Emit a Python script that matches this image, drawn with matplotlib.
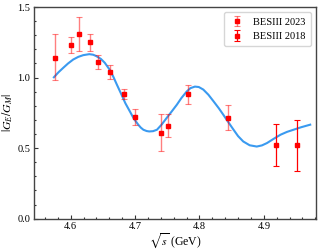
import numpy as np
import matplotlib
matplotlib.use("Agg")
import matplotlib.pyplot as plt
from matplotlib.ticker import MultipleLocator

plt.rcParams.update({"font.family": "serif", "font.serif": ["Liberation Serif", "DejaVu Serif"],
                     "mathtext.fontset": "stix", "font.size": 7.5})

# BESIII 2023 points: sqrt(s), value, upper / lower error
s23 = [4.575, 4.600, 4.613, 4.630, 4.642, 4.661, 4.683, 4.700, 4.741, 4.751, 4.782, 4.844]
r23 = [1.14, 1.23, 1.31, 1.25, 1.11, 1.04, 0.88, 0.72, 0.61, 0.66, 0.88, 0.71]
up23 = [0.166, 0.059, 0.12, 0.06, 0.047, 0.048, 0.036, 0.06, 0.131, 0.081, 0.07, 0.093]
lo23 = [0.154, 0.054, 0.12, 0.064, 0.05, 0.047, 0.031, 0.059, 0.128, 0.078, 0.066, 0.085]

# BESIII 2018 points
s18 = [4.919, 4.952]
r18 = [0.523, 0.523]
up18 = [0.148, 0.173]
lo18 = [0.149, 0.182]

# fit curve
fit_s = [4.574, 4.581, 4.5885, 4.596, 4.604, 4.612, 4.6196, 4.629, 4.635, 4.640, 4.647,
         4.653, 4.660, 4.666, 4.672, 4.679, 4.685, 4.692, 4.698, 4.705, 4.709, 4.713,
         4.718, 4.722, 4.728, 4.734, 4.741, 4.749, 4.757, 4.765, 4.772, 4.780, 4.786,
         4.793, 4.799, 4.806, 4.814, 4.822, 4.830, 4.837, 4.845, 4.853, 4.860, 4.868,
         4.878, 4.889, 4.897, 4.905, 4.915, 4.926, 4.936, 4.946, 4.958, 4.972]
fit_r = [1.002, 1.037, 1.069, 1.100, 1.128, 1.147, 1.159, 1.166, 1.162, 1.152, 1.132,
         1.105, 1.060, 1.009, 0.948, 0.879, 0.818, 0.760, 0.710, 0.666, 0.645, 0.630,
         0.621, 0.618, 0.620, 0.630, 0.665, 0.713, 0.760, 0.808, 0.855, 0.900, 0.925,
         0.936, 0.933, 0.915, 0.878, 0.831, 0.783, 0.737, 0.683, 0.630, 0.585, 0.547,
         0.520, 0.511, 0.519, 0.536, 0.565, 0.595, 0.615, 0.630, 0.648, 0.666]

fig = plt.figure(figsize=(3.2, 2.52), dpi=100)
ax = fig.add_axes([0.106, 0.1325, 0.8815, 0.8395])

ax.plot(fit_s, fit_r, color="#3a9af0", lw=1.5, zorder=2)
ax.errorbar(s23, r23, yerr=[lo23, up23], fmt="s", color="red", ms=3.5,
            ecolor=(1, 0, 0, 0.5), elinewidth=1, capsize=2, capthick=0.8,
            label="BESIII 2023", zorder=3)
ax.errorbar(s18, r18, yerr=[lo18, up18], fmt="s", color="red", ms=3,
            ecolor="red", elinewidth=0.9, capsize=2, capthick=0.8,
            label="BESIII 2018", zorder=3)

ax.set_xlim(4.543, 4.981)
ax.set_ylim(0, 1.5)
ax.xaxis.set_major_locator(MultipleLocator(0.1))
ax.xaxis.set_minor_locator(MultipleLocator(0.02))
ax.yaxis.set_major_locator(MultipleLocator(0.5))
ax.yaxis.set_minor_locator(MultipleLocator(0.1))
ax.tick_params(which="both", direction="in", colors="#333333", labelcolor="black", width=0.8)
ax.tick_params(which="major", length=3, pad=2.5)
ax.tick_params(which="minor", length=1.5)
for sp in ax.spines.values():
    sp.set_color("#444444"); sp.set_linewidth(1.0)

ax.set_xlabel(r"$\sqrt{s}$ (GeV)", fontsize=8.5, labelpad=0)
ax.set_ylabel(r"$|G_E/G_M|$", fontsize=8.5, labelpad=2)
ax.legend(loc="upper right", fontsize=7.5, frameon=True, fancybox=True,
          edgecolor="#cccccc", handlelength=1.5, borderpad=0.5, labelspacing=0.5)

fig.savefig("out.png", dpi=100)
